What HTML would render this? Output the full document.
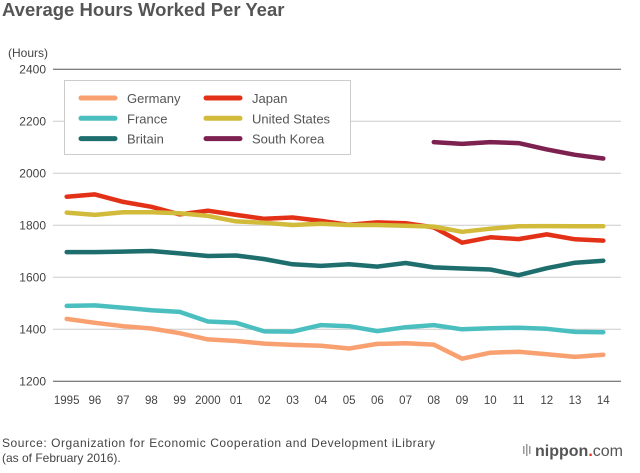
<!DOCTYPE html>
<html><head><meta charset="utf-8"><style>
body{margin:0;background:#fff;font-family:"Liberation Sans",sans-serif;}
svg text{font-family:"Liberation Sans",sans-serif;}
</style></head><body>
<svg id="chart" width="640" height="468" xmlns="http://www.w3.org/2000/svg">
<text x="2" y="16" font-size="18.5" font-weight="bold" fill="#555">Average Hours Worked Per Year</text>
<text x="8" y="57" font-size="12" fill="#444">(Hours)</text>
<g id="grid"></g>
<g id="series"></g>
<g>
<rect x="64.5" y="80.5" width="286" height="74" fill="#fff" stroke="#ccc"/>
<g id="legend"></g>
</g>
<text x="2" y="447" font-size="12" textLength="433" fill="#444">Source: Organization for Economic Cooperation and Development iLibrary</text>
<text x="2" y="462" font-size="12" fill="#444">(as of February 2016).</text>
<g>
<rect x="523" y="446" width="1.5" height="8" fill="#999"/><rect x="526" y="444" width="1.5" height="12" fill="#999"/><rect x="529" y="446" width="1.5" height="8" fill="#999"/>
<text x="535" y="456" font-size="16" font-weight="bold" fill="#555">nippon<tspan fill="#e03020">.</tspan><tspan font-weight="normal">com</tspan></text>
</g>
</svg>
<script>
const years=["1995","96","97","98","99","2000","01","02","03","04","05","06","07","08","09","10","11","12","13","14"];
const yTicks=[1200,1400,1600,1800,2000,2200,2400];
const germany=[1440,1425,1412,1403,1385,1361,1355,1345,1340,1337,1326,1344,1346,1341,1287,1310,1314,1304,1294,1302];
const france=[1490,1492,1483,1473,1467,1430,1425,1392,1391,1416,1412,1393,1408,1416,1400,1404,1406,1402,1390,1389];
const britain=[1697,1697,1699,1701,1692,1682,1684,1670,1650,1644,1650,1641,1655,1638,1634,1630,1608,1635,1656,1664];
const japan=[1910,1919,1890,1871,1842,1856,1840,1825,1830,1817,1802,1811,1808,1792,1733,1754,1747,1765,1746,1741];
const usa=[1849,1840,1850,1850,1846,1836,1815,1810,1801,1806,1801,1801,1798,1795,1775,1787,1796,1797,1796,1796];
const korea=[null,null,null,null,null,null,null,null,null,null,null,null,null,2120,2113,2120,2116,2092,2071,2057];
const names=["Germany","France","Britain","Japan","United States","South Korea"];
const colors=["#f9a070","#4bbfc0","#1e6e6e","#e33118","#d2bb3a","#7c2150"];
const NS="http://www.w3.org/2000/svg";
const x=i=>66.7+i*28.24;
const y=v=>381.3-(v-1200)*0.26;
function mk(t,a,p){const e=document.createElementNS(NS,t);for(const k in a)e.setAttribute(k,a[k]);p.appendChild(e);return e;}
const grid=document.getElementById('grid');
yTicks.forEach(v=>{
 const l=mk('line',{x1:53,x2:621,y1:y(v),y2:y(v),stroke:(v==1200||v==2400)?'#555':'#ccc','stroke-width':1},grid);
 
 
 const t=mk('text',{x:46,y:y(v)+4,'text-anchor':'end','font-size':12,fill:'#444'},grid);
 t.textContent=v;
 
 
});
years.forEach((s,i)=>{
 const t=mk('text',{x:x(i),y:404,'text-anchor':'middle','font-size':11.5,fill:'#444'},grid);
 t.textContent=s;
 
 
});
const all=[germany,france,britain,japan,usa,korea];
const sg=document.getElementById('series');
all.forEach((d,si)=>{
 let pts=[];d.forEach((v,i)=>{if(v!=null)pts.push(x(i).toFixed(1)+','+y(v).toFixed(1));});
 const p=mk('polyline',{points:pts.join(' '),fill:'none',stroke:colors[si],'stroke-width':4.5,'stroke-linecap':'round','stroke-linejoin':'round'},sg);
 
 
});
const lg=document.getElementById('legend');
names.forEach((n,i)=>{
 const col=Math.floor(i/3),row=i%3;
 const sx=col?206:81, ty=98+row*20.3;
 const g=mk('g',{},lg);
 
 
 mk('line',{x1:sx,x2:sx+34,y1:ty,y2:ty,stroke:colors[i],'stroke-width':5,'stroke-linecap':'round'},g);
 const t=mk('text',{x:sx+46,y:ty+5,'font-size':13,fill:'#555'},g);t.textContent=n;
});
</script>
</body></html>
